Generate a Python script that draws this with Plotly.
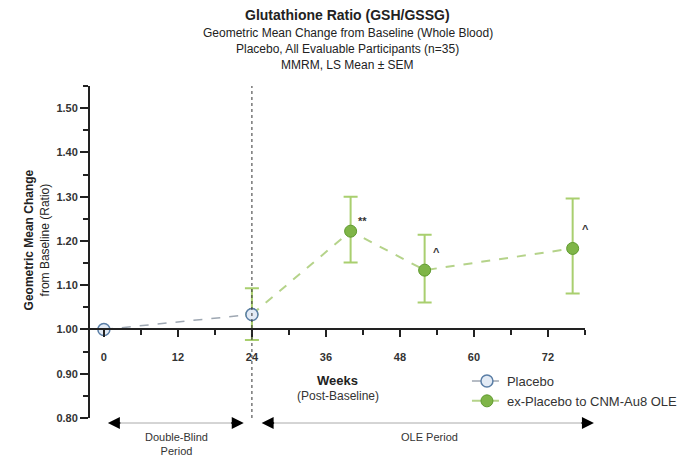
import plotly.graph_objects as go

# ---- data ----
placebo_weeks = [0, 24]
placebo_vals = [1.00, 1.034]

ole_weeks = [24, 40, 52, 76]
ole_vals = [1.034, 1.222, 1.134, 1.183]
ole_err_plus = [0.059, 0.078, 0.080, 0.113]
ole_err_minus = [0.058, 0.071, 0.073, 0.102]

sig_weeks = [42, 54, 78]
sig_vals = [1.245, 1.176, 1.226]
sig_labels = ["**", "^", "^"]

FONT = "Liberation Sans, Arial, sans-serif"

# plot area pixel geometry
L, R, T, B = 90, 106, 86, 47
W, H = 695, 465
PW = W - L - R
PH = H - T - B

def px(xp):
    return (xp - L) / PW

def py(yp):
    return (H - B - yp) / PH

fig = go.Figure()

fig.add_trace(go.Scatter(
    x=ole_weeks, y=ole_vals, mode="lines+markers",
    name="ex-Placebo to CNM-Au8 OLE", legendrank=2,
    line=dict(color="#b5d38a", width=2, dash="dash"),
    marker=dict(size=12, color="#7fb548", line=dict(color="#5f9a2e", width=1)),
    error_y=dict(type="data", symmetric=False, array=ole_err_plus,
                 arrayminus=ole_err_minus, color="#a9cf6f", thickness=2, width=7),
))

fig.add_trace(go.Scatter(
    x=placebo_weeks, y=placebo_vals, mode="lines+markers",
    name="Placebo", legendrank=1,
    line=dict(color="#9ea7b2", width=1.5, dash="dash"),
    marker=dict(size=12, color="#e3ebf5", line=dict(color="#5a7ea6", width=1.5)),
))

annotations = []
for xw, yv, t in zip(sig_weeks, sig_vals, sig_labels):
    annotations.append(dict(x=xw, y=yv, xref="x", yref="y", text="<b>%s</b>" % t,
                            showarrow=False, xanchor="center", yanchor="middle",
                            font=dict(size=11, color="#333", family=FONT)))

def txt(xp, yp, text, size, color="#222", angle=0):
    annotations.append(dict(x=px(xp), y=py(yp), xref="paper", yref="paper", text=text,
                            showarrow=False, xanchor="center", yanchor="middle",
                            textangle=angle, font=dict(size=size, color=color, family=FONT)))

# titles
txt(350, 15, "<b>Glutathione Ratio (GSH/GSSG)</b>", 14)
txt(350, 33, "Geometric Mean Change from Baseline (Whole Blood)", 12)
txt(350, 49, "Placebo, All Evaluable Participants (n=35)", 12)
txt(350, 65, "MMRM, LS Mean \u00b1 SEM", 12)

# y axis title
txt(37, 240, "<b>Geometric Mean Change</b><br>from Baseline (Ratio)", 12, angle=-90)

# x axis title
txt(340, 380, "<b>Weeks</b>", 13)
txt(340, 396, "(Post-Baseline)", 12, color="#333")

# period labels
txt(177, 444, "Double-Blind<br>Period", 11, color="#333")
txt(432, 437, "OLE Period", 11, color="#333")

# arrow heads
ay_px = 423
for tip, direction in [(108, -1), (245, 1), (263, -1), (598, 1)]:
    annotations.append(dict(x=px(tip), y=py(ay_px), xref="paper", yref="paper",
                            ax=-direction * 14, ay=0, text="", showarrow=True,
                            arrowhead=2, arrowsize=1.6, arrowwidth=1.5, arrowcolor="black"))

shapes = [
    dict(type="line", xref="x", yref="y", x0=24, x1=24, y0=0.80, y1=1.55,
         line=dict(color="#333", width=1, dash="dot")),
    dict(type="line", xref="paper", yref="paper", x0=px(112), x1=px(241),
         y0=py(ay_px), y1=py(ay_px), line=dict(color="#aaa", width=1)),
    dict(type="line", xref="paper", yref="paper", x0=px(267), x1=px(594),
         y0=py(ay_px), y1=py(ay_px), line=dict(color="#aaa", width=1)),
]

fig.update_layout(
    width=W, height=H,
    margin=dict(l=L, r=R, t=T, b=B),
    paper_bgcolor="white", plot_bgcolor="white",
    font=dict(family=FONT, color="#333"),
    showlegend=True,
    legend=dict(x=px(470), y=py(366), xanchor="left", yanchor="top",
                bgcolor="rgba(0,0,0,0)", font=dict(size=13, color="#333", family=FONT),
                tracegroupgap=2, itemwidth=30),
    annotations=annotations,
    shapes=shapes,
    xaxis=dict(range=[-2.25, 78], tick0=0, dtick=12, showgrid=False, zeroline=False,
               showline=True, linecolor="#222", linewidth=2,
               ticks="outside", ticklen=7, tickwidth=2, tickcolor="#222",
               anchor="free", position=(1.00 - 0.80) / 0.75,
               ticklabelstandoff=10,
               tickfont=dict(size=11, color="#333", family=FONT, weight="bold"),
               minor=dict(dtick=6, tick0=0, ticklen=5, tickwidth=2, tickcolor="#222",
                          ticks="outside", showgrid=False)),
    yaxis=dict(range=[0.80, 1.55], tick0=0.8, dtick=0.1, tickformat=".2f",
               showgrid=False, zeroline=False,
               showline=True, linecolor="#222", linewidth=2,
               ticks="outside", ticklen=8, tickwidth=2, tickcolor="#222",
               tickfont=dict(size=11, color="#333", family=FONT, weight="bold"),
               minor=dict(dtick=0.05, tick0=0.8, ticklen=5, tickwidth=2, tickcolor="#222",
                          ticks="outside", showgrid=False)),
)

fig.write_html("out.html")
